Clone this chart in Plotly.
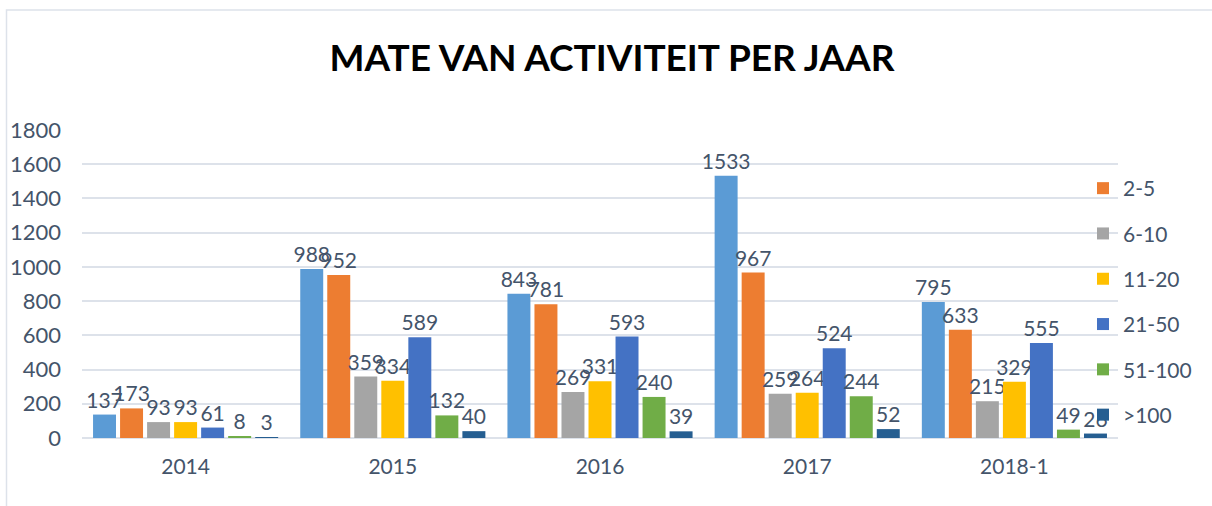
import plotly.graph_objects as go

categories = ["2014", "2015", "2016", "2017", "2018-1"]
series_names = ["1", "2-5", "6-10", "11-20", "21-50", "51-100", ">100"]
v_1 = [137, 988, 843, 1533, 795]
v_2_5 = [173, 952, 781, 967, 633]
v_6_10 = [93, 359, 269, 259, 215]
v_11_20 = [93, 334, 331, 264, 329]
v_21_50 = [61, 589, 593, 524, 555]
v_51_100 = [8, 132, 240, 244, 49]
v_100p = [3, 40, 39, 52, 26]
series_values = [v_1, v_2_5, v_6_10, v_11_20, v_21_50, v_51_100, v_100p]
colors = ["#5B9BD5", "#ED7D31", "#A5A5A5", "#FFC000", "#4472C4", "#70AD47", "#255E91"]
y_ticks = [0, 200, 400, 600, 800, 1000, 1200, 1400, 1600, 1800]

TXT = "#44546A"
FONT = "Lato"

W, H = 1212, 506
L, T, PW, PH = 82, 130, 1036, 308

fig = go.Figure()
for i, (name, vals, col) in enumerate(zip(series_names, series_values, colors)):
    fig.add_trace(go.Bar(
        x=categories, y=vals, name=name,
        marker=dict(color=col, line=dict(width=0)),
        text=[str(v) for v in vals], textposition="outside",
        textfont=dict(size=21, color=TXT, family=FONT),
        constraintext="none", cliponaxis=False,
        showlegend=(i != 0), legendgroup=name,
    ))

fig.update_layout(
    width=W, height=H,
    margin=dict(l=L, r=W - L - PW, t=T, b=H - T - PH, autoexpand=False),
    paper_bgcolor="white", plot_bgcolor="white",
    barmode="group", bargap=0.087, bargroupgap=0.15,
    title=dict(text="<b>MATE VAN ACTIVITEIT PER JAAR</b>", x=612 / W, xanchor="center",
               y=1 - 58 / H, yanchor="middle",
               font=dict(size=37, color="#000000", family=FONT)),
    font=dict(family=FONT, color=TXT, size=20),
    legend=dict(x=(1083 - L) / PW, xanchor="left", y=1 - 38 / PH, yanchor="top",
                font=dict(size=21, color=TXT, family=FONT),
                tracegroupgap=15, bgcolor="rgba(0,0,0,0)"),
    xaxis=dict(showgrid=False, showline=False, ticks="", tickfont=dict(size=21, color=TXT),
               ticklabelstandoff=14, automargin=False),
    yaxis=dict(range=[0, 1800], tickvals=y_ticks, showgrid=True, gridcolor="#DDE2EA",
               gridwidth=1.5, zeroline=True, zerolinecolor="#DDE2EA", zerolinewidth=1.5,
               tickfont=dict(size=22, color=TXT), ticks="", ticklabelstandoff=20,
               automargin=False),
    shapes=[dict(type="rect", xref="paper", yref="paper",
                 x0=(6.5 - L) / PW, x1=1.2, y0=-0.4, y1=(PH + T - 10) / PH,
                 line=dict(color="#DDE2EA", width=1.5), layer="below")],
)

fig.write_html("out.html", config={"displayModeBar": False},
               post_script="document.body.style.margin='0';document.body.style.padding='0';")
